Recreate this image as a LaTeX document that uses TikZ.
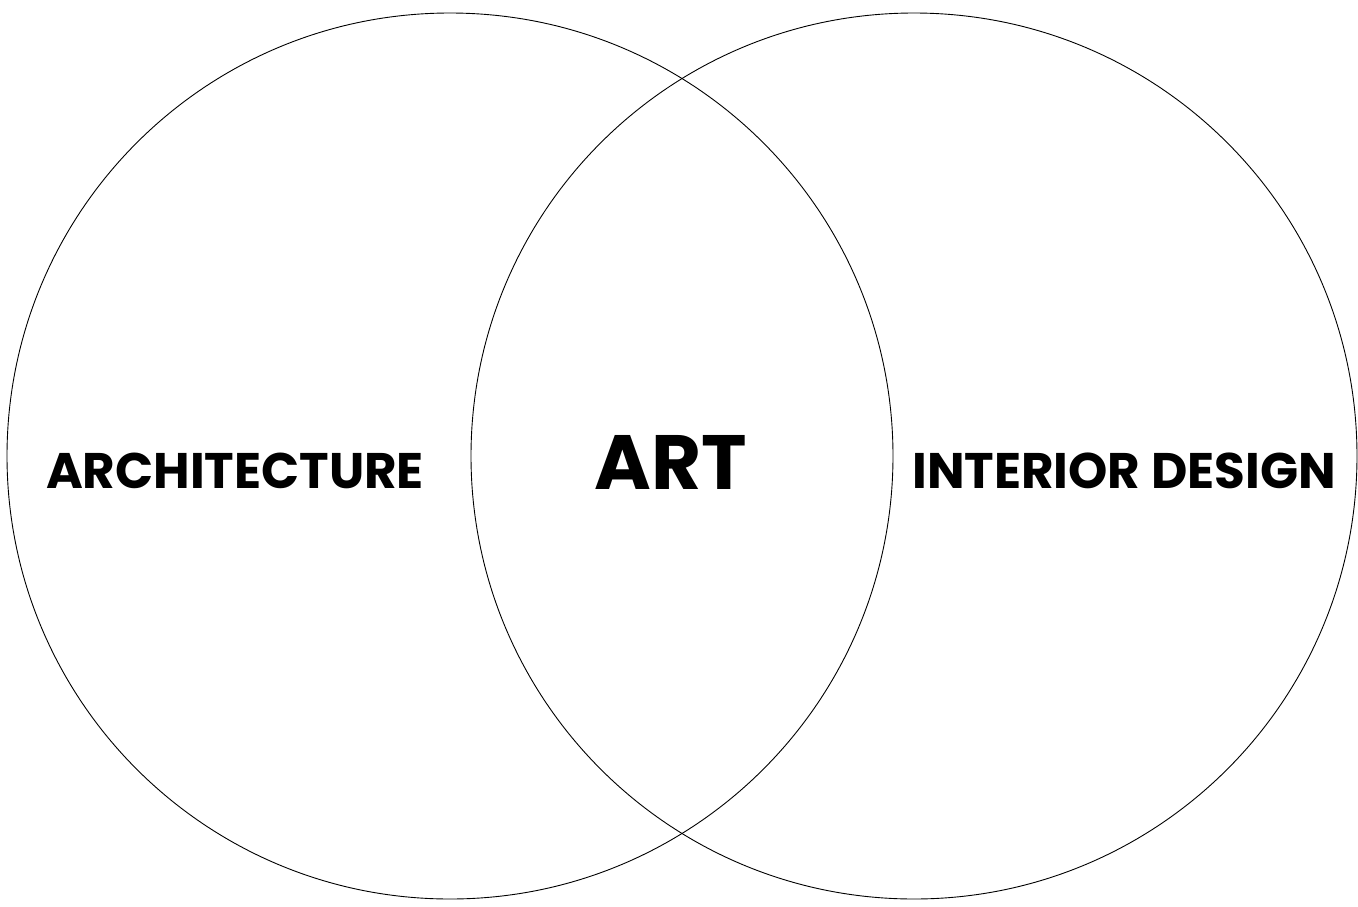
\documentclass[tikz,border=0pt]{standalone}
\usepackage{fontspec}
\setmainfont{Poppins}[BoldFont={* Bold}]
\begin{document}
\begin{tikzpicture}[x=1pt,y=-1pt,
  ring/.style={draw=black,line width=0.9pt},
  lbl/.style={font=\fontsize{50}{54}\selectfont\bfseries,inner sep=0pt,anchor=base},
  big/.style={font=\fontsize{77}{80}\selectfont\bfseries,inner sep=0pt,anchor=base}]
\useasboundingbox (0,0) rectangle (1358,906);
\node[ring,circle,minimum size=886pt,inner sep=0pt] (left) at (450,456) {};
\node[ring,circle,minimum size=886pt,inner sep=0pt] (right) at (914,456) {};
\node[lbl] (arch) at (235,488) {ARCHITECTURE};
\node[big] (art) at (671,489) {ART};
\node[lbl] (int) at (1124,488) {INTERIOR DESIGN};
\end{tikzpicture}
\end{document}
